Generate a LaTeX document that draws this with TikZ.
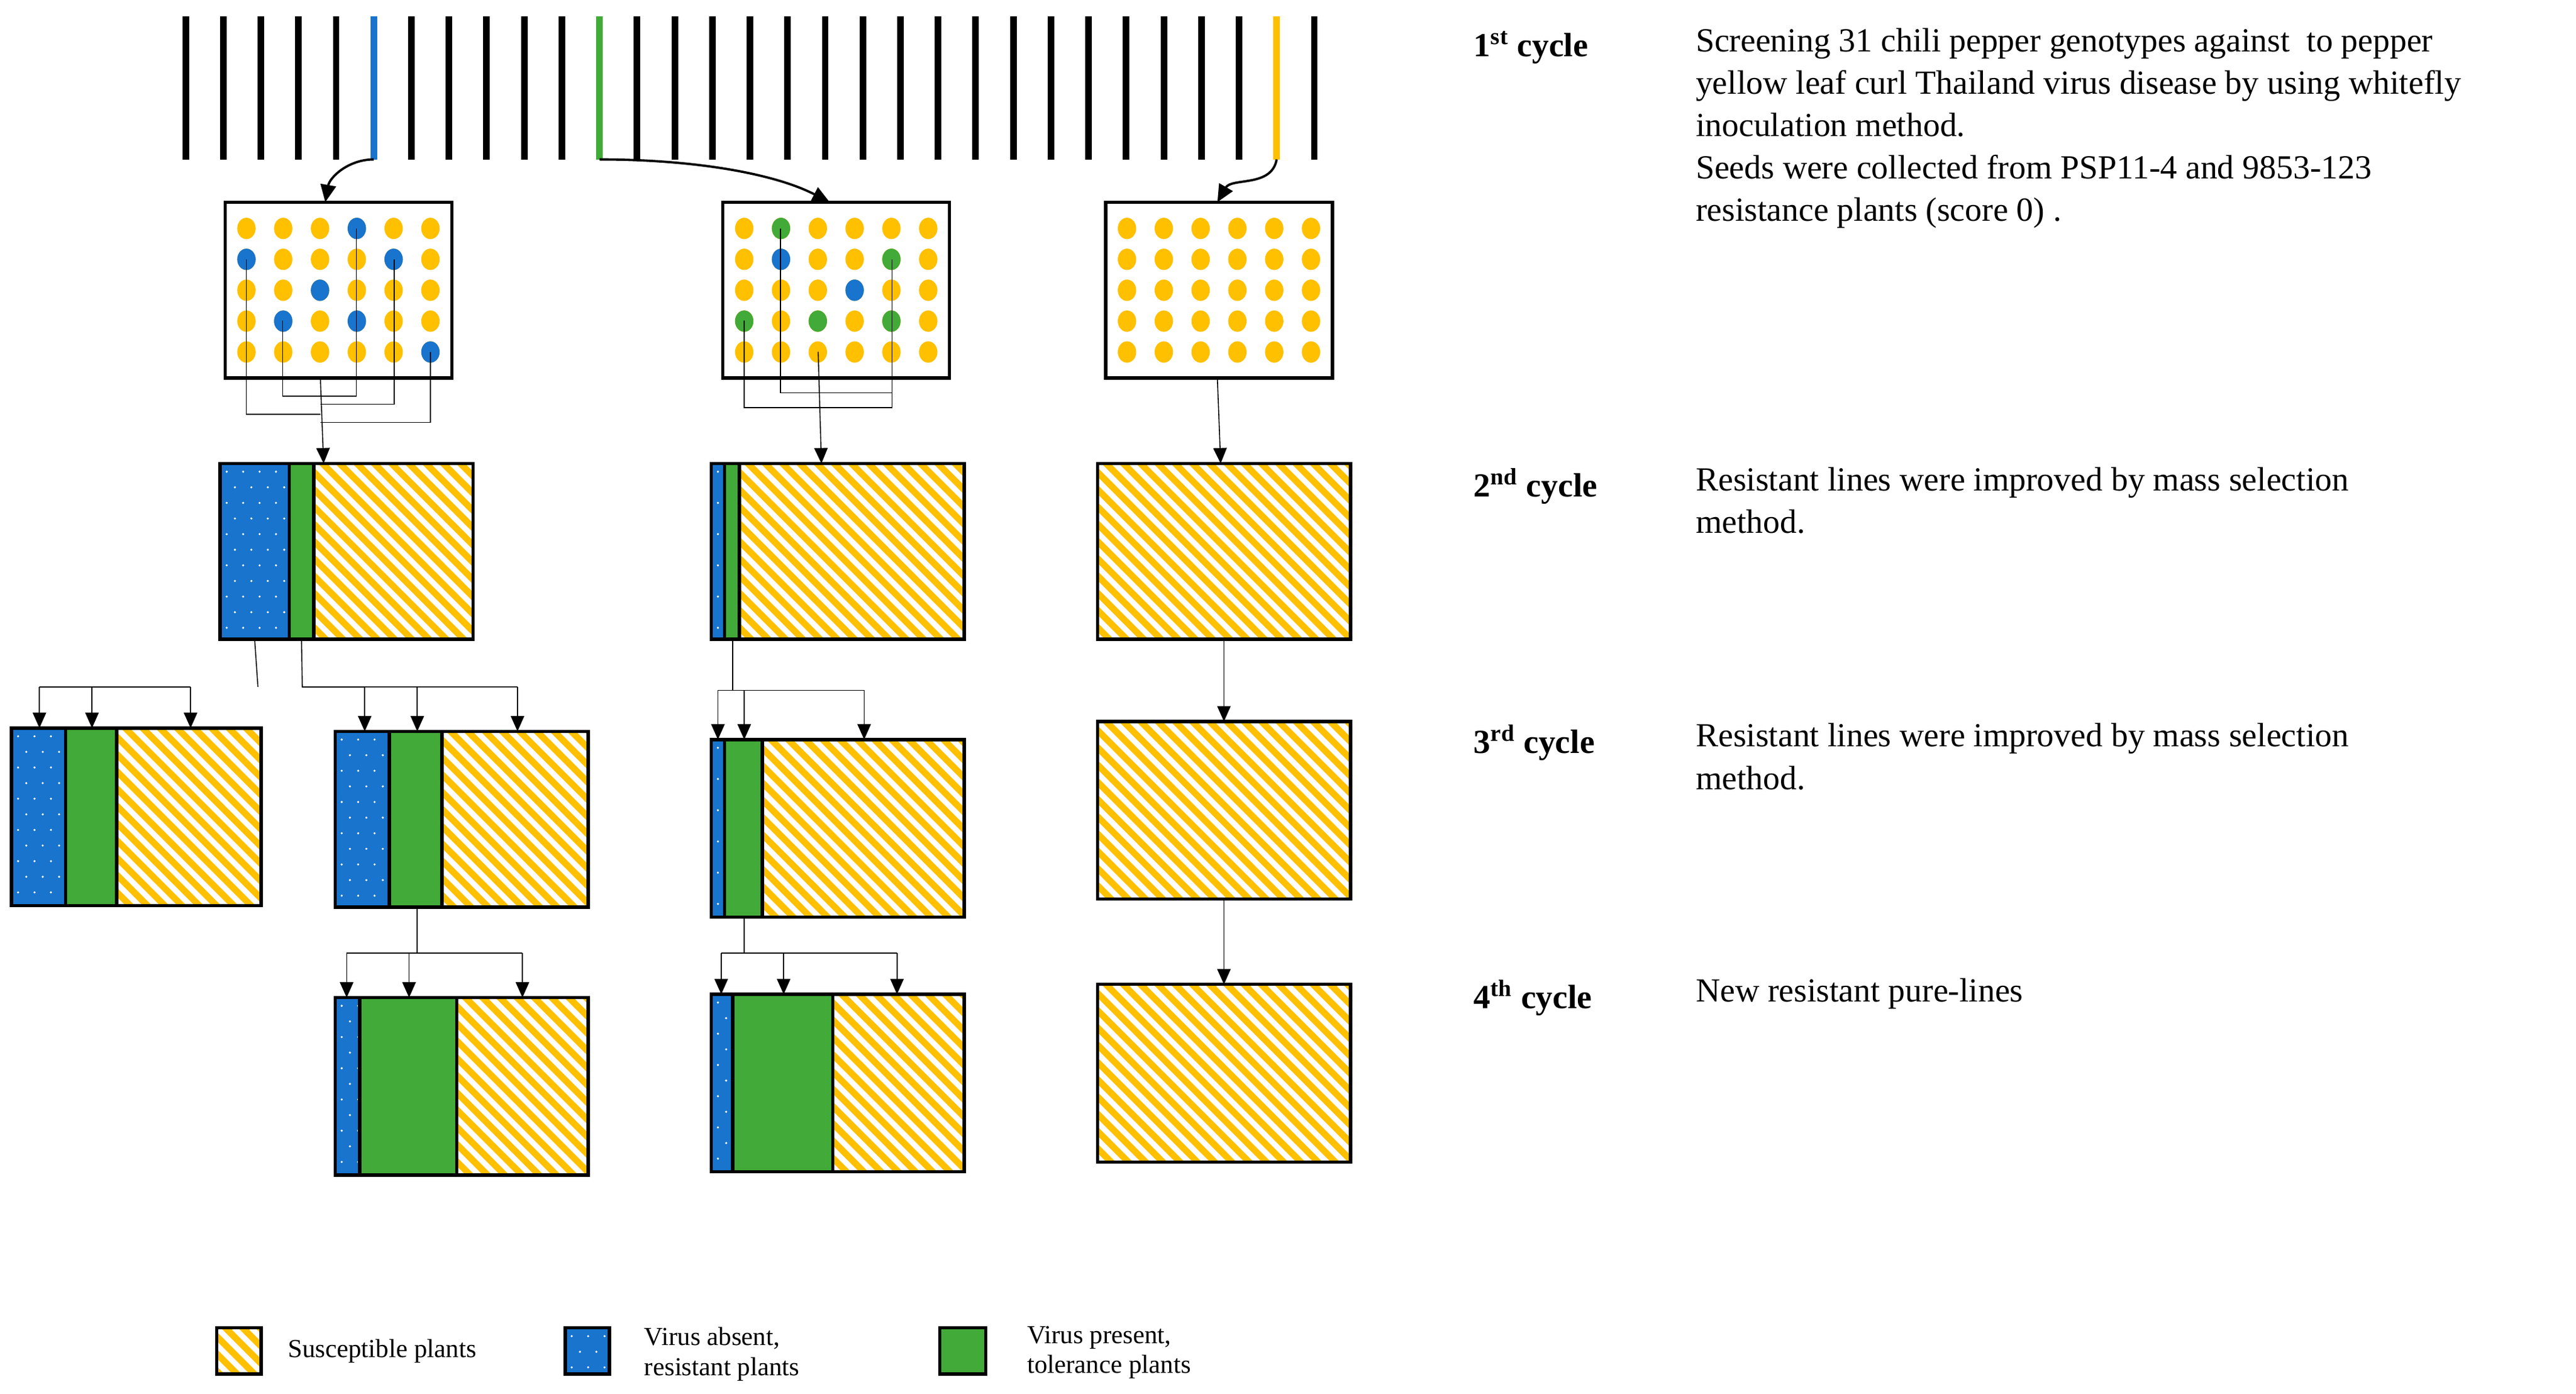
\documentclass[tikz,border=0pt]{standalone}
\usepackage{fontspec}
\setmainfont{Liberation Serif}
\usetikzlibrary{arrows.meta}

\definecolor{vblue}{RGB}{24,116,205}
\definecolor{vgreen}{RGB}{66,170,56}
\definecolor{vyellow}{RGB}{255,192,0}

% hatched yellow part
\newcommand\hatchpart[4]{%
  \begin{scope}
    \clip (#1,#2) rectangle (#3,#4);
    \fill[vyellow] (#1,#2) rectangle (#3,#4);
    \foreach \k in {-12,...,16}
      \draw[white, line width=0.1cm] ({#1+\k*10.5},#2) -- ++(125,125);
  \end{scope}}
% dotted blue part
\newcommand\dotpart[4]{%
  \fill[vblue] (#1,#2) rectangle (#3,#4);
  \begin{scope}
    \clip (#1,#2) rectangle (#3,#4);
    \foreach \r in {0,...,11}
      \foreach \c in {0,...,5}
        \fill[white] ({#1+4+\c*10+mod(\r,2)*5},{#2+5+\r*9.5}) circle (0.7);
  \end{scope}}
% plant block: name, x1, blue end, green end, x2, y1, y2
\newcommand\plantblock[7]{%
  \ifdim #3pt>#2pt \dotpart{#2}{#6}{#3}{#7}\fi
  \ifdim #4pt>#3pt \fill[vgreen] (#3,#6) rectangle (#4,#7);\fi
  \hatchpart{#4}{#6}{#5}{#7}
  \draw[frame] (#2,#6) rectangle (#5,#7);
  \ifdim #3pt>#2pt \draw[frame] (#3,#6) -- (#3,#7);\fi
  \ifdim #4pt>#3pt \draw[frame] (#4,#6) -- (#4,#7);\fi
  \coordinate (#1-n) at ({(#2+#5)/2},#6);
  \coordinate (#1-s) at ({(#2+#5)/2},#7);
  \coordinate (#1-bs) at ({(#2+#3)/2},#7);
  \coordinate (#1-gs) at ({(#3+#4)/2},#7);}

\begin{document}
\begin{tikzpicture}[x=0.03cm, y=-0.03cm]

% Styles
        \tikzstyle{frame}=[draw=black, line width=0.06cm]
        \tikzstyle{bar}=[line width=0.12cm]
        \tikzstyle{link}=[black, line width=0.5pt]
        \tikzstyle{arrow}=[-{Triangle[width=7pt,length=8pt]}, link]
        \tikzstyle{curved}=[-{Triangle[width=8pt,length=9pt]}, line width=1.2pt]
        \tikzstyle{cycle}=[anchor=west, font=\fontsize{17.5}{22}\selectfont\bfseries]
        \tikzstyle{note}=[anchor=north west, align=left, inner sep=0pt, font=\fontsize{17.5}{22}\selectfont]
        \tikzstyle{legend}=[anchor=west, align=left, inner sep=0pt, font=\fontsize{13.5}{15.5}\selectfont]

        \useasboundingbox (0,0) rectangle (1568,848);

% Genotype bars
        \foreach \i in {0,...,30} {
          \ifnum\i=5 \def\bc{vblue}\else\ifnum\i=11 \def\bc{vgreen}\else
          \ifnum\i=29 \def\bc{vyellow}\else\def\bc{black}\fi\fi\fi
          \draw[bar, draw=\bc] ({113+\i*22.9},10) -- ({113+\i*22.9},97);
          \coordinate (bar\i) at ({113+\i*22.9},97);
        }

% Seed trays
        \foreach \tx/\name in {137/trayA, 440/trayB, 673/trayC} {
          \draw[frame] (\tx,123) rectangle ++(138,107);
          \coordinate (\name-n) at ({\tx+69},123);
          \foreach \r in {0,...,4}
            \foreach \c in {0,...,5}
              \fill[vyellow] ({\tx+13+\c*22.4},{139+\r*18.8}) ellipse (5.6 and 6.5);
        }
        % selected plants, tray A
        \foreach \c/\r/\col in {3/0/vblue, 0/1/vblue, 4/1/vblue, 2/2/vblue, 1/3/vblue, 3/3/vblue, 5/4/vblue}
          \fill[\col] ({150+\c*22.4},{139+\r*18.8}) ellipse (5.6 and 6.5);
        % selected plants, tray B
        \foreach \c/\r/\col in {1/0/vgreen, 1/1/vblue, 4/1/vgreen, 3/2/vblue, 0/3/vgreen, 2/3/vgreen, 4/3/vgreen}
          \fill[\col] ({453+\c*22.4},{139+\r*18.8}) ellipse (5.6 and 6.5);

        \draw[link] (150,158) |- (195,252);
        \draw[link] (172,195) |- (217,241) -- (217,139);
        \draw[link] (240,158) |- (195,246);
        \draw[link] (262,214) |- (195,257);
        \draw[link] (453,195) |- (543,248) -- (543,158);
        \draw[link] (475,139) |- (543,239);

% Cycle 2
        \plantblock{A2}{134}{176}{191}{288}{282}{389}
        \plantblock{B2}{433}{441}{450}{587}{282}{389}
        \plantblock{C2}{668}{668}{668}{822}{282}{389}

% Cycle 3
        \plantblock{A3}{7}{40}{71}{159}{443}{551}
        \plantblock{D3}{204}{237}{269}{358}{445}{552}
        \plantblock{B3}{433}{441}{464}{587}{450}{558}
        \plantblock{C3}{668}{668}{668}{822}{439}{547}

% Cycle 4
        \plantblock{D4}{204}{219}{278}{358}{607}{715}
        \plantblock{B4}{433}{446}{507}{587}{605}{713}
        \plantblock{C4}{668}{668}{668}{822}{599}{707}

% Connections
        \draw[curved] (bar5) to[out=180, in=80] (trayA-n -| 198,0);
        \draw[curved] (bar11) .. controls (420,97) and (470,105) .. (trayB-n -| 505,0);
        \draw[curved] (bar29) to[out=-100, in=60] (trayC-n -| 741,0);

        \draw[arrow] (195,230) -- (A2-n -| 197,0);
        \draw[arrow] (498,214) -- (B2-n -| 500,0);
        \draw[arrow] (741,230) -- (C2-n -| 743,0);

        \coordinate (forkA) at (157,418);
        \draw[link] (A2-bs) -- (forkA);
        \draw[link] (24,418) -- (116,418);
        \foreach \x in {24,56,116} \draw[arrow] (\x,418) -- (A3-n -| \x,0);
        \coordinate (forkD) at (184,418);
        \draw[link] (A2-gs) -- (forkD) -- (315,418);
        \draw[link] (222,418) -- (forkD);
        \foreach \x in {222,254,315} \draw[arrow] (\x,418) -- (D3-n -| \x,0);

        \draw[link] (254,552) -- (254,580);
        \draw[link] (211,580) -- (318,580);
        \foreach \x in {211,249,318} \draw[arrow] (\x,580) -- (D4-n -| \x,0);

        \draw[link] (446,389) -- (446,420);
        \draw[link] (437,420) -- (526,420);
        \foreach \x in {437,453,526} \draw[arrow] (\x,420) -- (B3-n -| \x,0);

        \draw[link] (453,558) -- (453,580);
        \draw[link] (439,580) -- (546,580);
        \foreach \x in {439,477,546} \draw[arrow] (\x,580) -- (B4-n -| \x,0);

        \draw[arrow] (C2-s) -- (C3-n);
        \draw[arrow] (C3-s) -- (C4-n);

% Cycle notes
        \node[cycle] (cyc1) at (893,29) {1\textsuperscript{st} cycle};
        \node[note] (txt1) at (1032,17) {Screening 31 chili pepper genotypes against\ \ to pepper\\yellow leaf curl Thailand virus disease by using whitefly\\inoculation method.\\Seeds were collected from PSP11-4 and 9853-123\\resistance plants (score 0) .};
        \node[cycle] (cyc2) at (893,296) {2\textsuperscript{nd} cycle};
        \node[note] (txt2) at (1032,284) {Resistant lines were improved by mass selection\\method.};
        \node[cycle] (cyc3) at (893,452) {3\textsuperscript{rd} cycle};
        \node[note] (txt3) at (1032,440) {Resistant lines were improved by mass selection\\method.};
        \node[cycle] (cyc4) at (893,607) {4\textsuperscript{th} cycle};
        \node[note] (txt4) at (1032,595) {New resistant pure-lines};

% Legend
        \hatchpart{132}{808}{159}{836}
        \draw[frame] (132,808) rectangle (159,836);
        \node[legend] (leg1) at (175,822) {Susceptible plants};
        \dotpart{344}{808}{371}{836}
        \draw[frame] (344,808) rectangle (371,836);
        \node[legend] (leg2) at (392,824) {Virus absent,\\resistant plants};
        \fill[vgreen] (572,808) rectangle (600,836);
        \draw[frame] (572,808) rectangle (600,836);
        \node[legend] (leg3) at (625,823) {Virus present,\\tolerance plants};

\end{tikzpicture}
\end{document}
